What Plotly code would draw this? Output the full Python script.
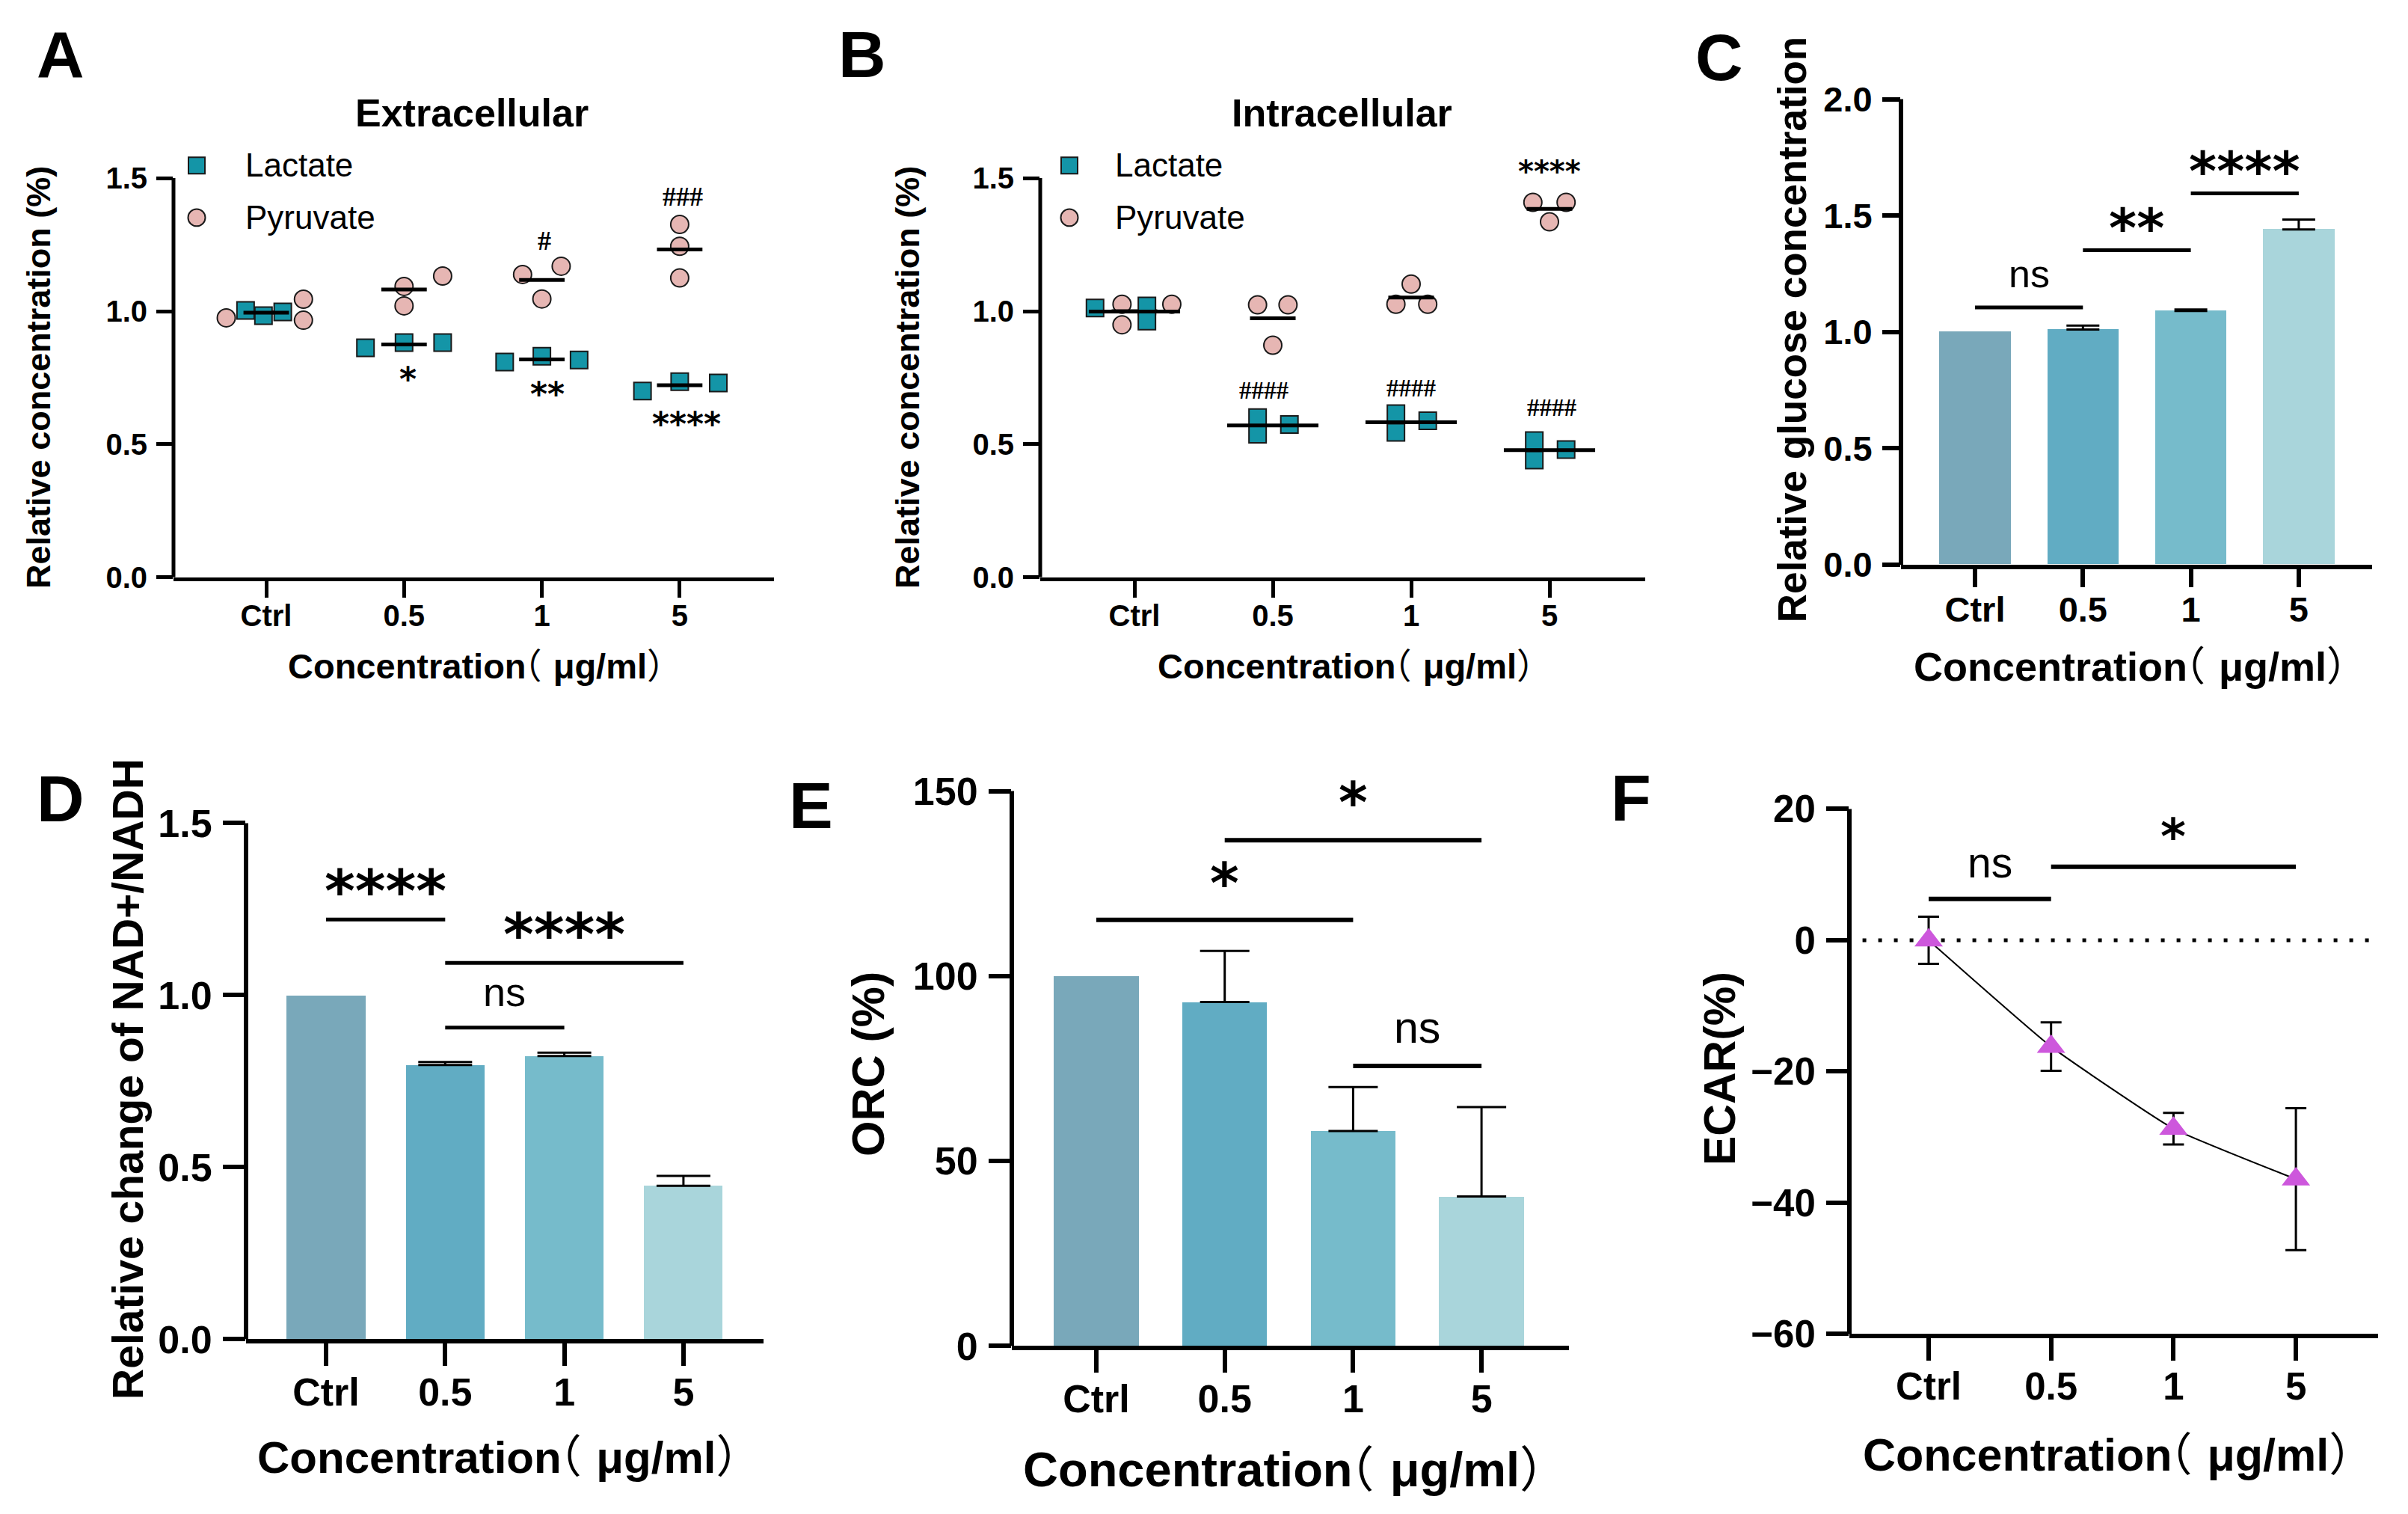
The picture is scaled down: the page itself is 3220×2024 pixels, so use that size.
import plotly.graph_objects as go

W, H = 3220, 2024
SANS = "Liberation Sans, Arial, Noto Sans CJK SC"
CJK = "Noto Sans CJK SC"
SERIF = "Liberation Serif, Times New Roman"
STAR = "DejaVu Sans"

cats = ["Ctrl", "0.5", "1", "5"]
xi = [0, 1, 2, 3]

# A: extracellular, 3 replicates per group
a_lactate = [[1.003, 0.983, 0.997], [0.862, 0.882, 0.882], [0.809, 0.831, 0.817], [0.700, 0.735, 0.730]]
a_pyruvate = [[0.975, 1.045, 0.966], [1.093, 1.020, 1.132], [1.138, 1.169, 1.046], [1.326, 1.244, 1.125]]
# B: intracellular
b_lactate = [[1.012, 1.020, 0.963], [0.600, 0.538, 0.574], [0.615, 0.545, 0.588], [0.514, 0.441, 0.480]]
b_pyruvate = [[1.026, 0.949, 1.026], [1.024, 1.024, 0.872], [1.102, 1.026, 1.026], [1.409, 1.409, 1.336]]

# C: relative glucose
c_vals = [1.00, 1.01, 1.09, 1.44]
c_err = [None, 0.017, 0.006, 0.043]
# D: NAD+/NADH
d_vals = [1.00, 0.797, 0.823, 0.446]
d_err = [None, 0.009, 0.010, 0.029]
# E: ORC
e_vals = [100, 93.0, 58.1, 40.4]
e_err = [None, 13.8, 11.9, 24.2]
# F: ECAR
f_vals = [0.0, -16.2, -28.7, -36.4]
f_err = [3.6, 3.7, 2.4, 10.8]

# significance labels: (from, to, text)
c_sig = [(0, 1, "ns"), (1, 2, "**"), (2, 3, "****")]
d_sig = [(0, 1, "****"), (1, 3, "****"), (1, 2, "ns")]
e_sig = [(0, 2, "*"), (1, 3, "*"), (2, 3, "ns")]
f_sig = [(0, 1, "ns"), (1, 3, "*")]

# ---- layout helpers (pixel boxes) ----
jit_a_lac = [[-0.15, -0.02, 0.12], [-0.28, 0, 0.28], [-0.27, 0, 0.27], [-0.27, 0, 0.28]]
jit_a_pyr = [[-0.29, 0.27, 0.27], [0, 0, 0.28], [-0.14, 0.14, 0], [0, 0, 0]]
jit_b_lac = [[-0.285, 0.09, 0.09], [-0.11, -0.11, 0.12], [-0.11, -0.11, 0.12], [-0.11, -0.11, 0.12]]
jit_b_pyr = [[-0.09, -0.09, 0.27], [-0.11, 0.11, 0], [0, -0.11, 0.12], [-0.12, 0.12, 0]]

bar_colors = ["#79A8BA", "#61ACC3", "#76BBCB", "#A9D5DB"]
TEAL = "#1495A7"
PINK = "#E6B6B3"
VIOLET = "#CD57DC"

fig = go.Figure()


# the page is photographed slightly squeezed vertically; map target pixels to paper
def px(x):
    return (x - 8) / W


def py(y):
    return 1 - ((y - 31) / 0.978) / H


def axes(n, left, right, bottom, top, vmin, vtop, vext, cat0, step, ytv, ytt, fsize, lw, tlen):
    k = (bottom - top) / (vtop - vmin)
    ext_px = bottom - k * (vext - vmin)
    sfx = "" if n == 1 else str(n)
    tf = dict(family=SANS, size=fsize, color="black", weight="bold")
    fig.layout["xaxis" + sfx] = dict(
        domain=[px(left), px(right)], range=[(left - cat0) / step, (right - cat0) / step],
        anchor="y" + sfx, showline=True, linewidth=lw, linecolor="black", ticks="outside",
        ticklen=tlen, tickwidth=lw, tickcolor="black", tickvals=xi, ticktext=cats,
        tickfont=tf, showgrid=False, zeroline=False, ticklabelstandoff=-10)
    fig.layout["yaxis" + sfx] = dict(
        domain=[py(bottom), py(ext_px)], range=[vmin, vext], anchor="x" + sfx,
        showline=False, ticks="outside", ticklen=tlen, tickwidth=lw, tickcolor="black",
        tickvals=ytv, ticktext=ytt, tickfont=tf, showgrid=False, zeroline=False,
        ticklabelstandoff=4)
    fig.add_shape(type="line", xref="x" + sfx + " domain", yref="y" + sfx,
                  x0=0, x1=0, y0=vmin, y1=vtop, line=dict(color="black", width=lw))


def text(x, y, s, size, bold=True, family=SANS, angle=0, xanchor="center"):
    fig.add_annotation(x=px(x), y=py(y), xref="paper", yref="paper", text=s, showarrow=False,
                       textangle=angle, xanchor=xanchor, yanchor="middle",
                       font=dict(family=family, size=size, color="black",
                                 weight="bold" if bold else "normal"))


def conc_title(c_start, y, s):
    # pull the full-width bracket in so it hugs the word, as in the original
    t = ('Concentratio<span style="letter-spacing:-%dpx">n</span>'
         '<span style="font-weight:normal">\uff08</span>'
         '<span style="letter-spacing:%dpx"> </span>\u03bcg/ml'
         '<span style="font-weight:normal">\uff09</span>') % (round(0.55 * s), round(0.05 * s))
    text(c_start - 0.05 * s, y, t, s, family="Liberation Sans, " + CJK, xanchor="left")


def dtext(n, x, y, s, size, family=STAR, bold=True):
    sfx = "" if n == 1 else str(n)
    fig.add_annotation(x=x, y=y, xref="x" + sfx, yref="y" + sfx, text=s, showarrow=False,
                       xanchor="center", yanchor="middle",
                       font=dict(family=family, size=size, color="black",
                                 weight="bold" if bold else "normal"))


def scatter_panel(n, lac, pyr, jl, jp, half_l, half_p):
    sfx = "" if n == 1 else str(n)
    for vals, jit, sym, col, size, half in [(pyr, jp, "circle", PINK, 24, half_p),
                                              (lac, jl, "square", TEAL, 23, half_l)]:
        xs, ys, mx, my = [], [], [], []
        for c, (grp, jj) in enumerate(zip(vals, jit)):
            xs += [c + j for j in jj]
            ys += grp
            m = sum(grp) / len(grp)
            mx += [c - half, c + half, None]
            my += [m, m, None]
        fig.add_trace(go.Scatter(x=xs, y=ys, mode="markers", xaxis="x" + sfx, yaxis="y" + sfx,
                                 marker=dict(symbol=sym, size=size, color=col,
                                             line=dict(color="#1a1a1a", width=2))))
        fig.add_trace(go.Scatter(x=mx, y=my, mode="lines", xaxis="x" + sfx, yaxis="y" + sfx,
                                 line=dict(color="black", width=5)))


def bar_panel(n, vals, err, cap):
    sfx = "" if n == 1 else str(n)
    fig.add_trace(go.Bar(x=xi, y=vals, width=0.66, xaxis="x" + sfx, yaxis="y" + sfx,
                         marker=dict(color=bar_colors, line=dict(width=0))))
    keep = [i for i, e in enumerate(err) if e is not None]
    fig.add_trace(go.Scatter(x=[xi[i] for i in keep], y=[vals[i] for i in keep], mode="markers",
                             marker=dict(size=1, opacity=0), xaxis="x" + sfx, yaxis="y" + sfx,
                             error_y=dict(type="data", array=[err[i] for i in keep],
                                          arrayminus=[0] * len(keep), symmetric=False,
                                          color="black", thickness=3, width=cap)))


def brackets(n, sig, lines, texts, sizes, lw):
    sfx = "" if n == 1 else str(n)
    for (a, b, s), yl, yt in zip(sig, lines, texts):
        fig.add_shape(type="line", xref="x" + sfx, yref="y" + sfx, x0=a, x1=b, y0=yl, y1=yl,
                      line=dict(color="black", width=lw))
        if s == "ns":
            dtext(n, (a + b) / 2, yt, s, sizes[1], family=SANS, bold=False)
        else:
            dtext(n, (a + b) / 2, yt, s, sizes[0])


fmt1 = ["0.0", "0.5", "1.0", "1.5", "2.0"]

# ---- A ----
axes(1, 232, 1035, 774, 238, 0, 1.5, 1.62, 356, 184.3, [0, 0.5, 1, 1.5], fmt1[:4], 40, 5, 22)
scatter_panel(1, a_lactate, a_pyruvate, jit_a_lac, jit_a_pyr, 0.165, 0.165)
dtext(1, 1.03, 0.745, "*", 44)
dtext(1, 2.04, 0.69, "**", 44)
dtext(1, 3.05, 0.578, "****", 44)
dtext(1, 2.02, 1.265, "#", 36, family=SERIF)
dtext(1, 3.02, 1.43, "###", 36, family=SERIF)

# ---- B ----
axes(2, 1391, 2200, 774, 238, 0, 1.5, 1.62, 1517, 185, [0, 0.5, 1, 1.5], fmt1[:4], 40, 5, 22)
scatter_panel(2, b_lactate, b_pyruvate, jit_b_lac, jit_b_pyr, 0.33, 0.165)
dtext(2, 0.94, 0.702, "####", 33, family=SERIF)
dtext(2, 2.0, 0.71, "####", 33, family=SERIF)
dtext(2, 3.02, 0.637, "####", 33, family=SERIF)
dtext(2, 3.0, 1.525, "****", 40)

# ---- C ----
axes(3, 2542, 3172, 757, 132, 0, 2.0, 2.01, 2641, 144.3, [0, 0.5, 1, 1.5, 2], fmt1, 47, 6, 24)
bar_panel(3, c_vals, c_err, 22)
brackets(3, c_sig, [1.105, 1.351, 1.595], [1.25, 1.445, 1.69], (71, 52), 5)

# ---- D ----
axes(4, 329, 1021, 1797, 1104, 0, 1.5, 1.51, 436, 159.3, [0, 0.5, 1, 1.5], fmt1[:4], 52, 6, 30)
bar_panel(4, d_vals, d_err, 36)
brackets(4, d_sig, [1.22, 1.094, 0.906], [1.30, 1.175, 1.01], (78, 54), 5)

# ---- E ----
axes(5, 1353, 2098, 1806, 1061, 0, 150, 151, 1466, 171.7, [0, 50, 100, 150],
     ["0", "50", "100", "150"], 52, 6, 30)
bar_panel(5, e_vals, e_err, 33)
brackets(5, e_sig, [115.2, 136.7, 75.7], [125, 146.8, 86], (74, 59), 6)

# ---- F ----
axes(6, 2473, 3180, 1790, 1085, -60, 20, 20.5, 2579, 163.7, [-60, -40, -20, 0, 20],
     ["\u221260", "\u221240", "\u221220", "0", "20"], 51, 6, 30)
fig.add_trace(go.Scatter(x=[-0.54, 3.66], y=[0, 0], mode="lines", xaxis="x6", yaxis="y6",
                         line=dict(color="black", width=5, dash="5px,16px")))
fig.add_trace(go.Scatter(x=xi, y=f_vals, mode="lines+markers", xaxis="x6", yaxis="y6",
                         line=dict(color="black", width=2, shape="spline", smoothing=0.4),
                         marker=dict(symbol="triangle-up", size=33, color=VIOLET),
                         error_y=dict(type="data", array=f_err, color="black", thickness=3, width=14)))
brackets(6, f_sig, [6.3, 11.2], [11.9, 15.8], (65, 57), 6)

# ---- legends A / B ----
for lx, tx in [(263, 326), (1430, 1489)]:
    fig.add_shape(type="rect", xref="paper", yref="paper", x0=px(lx - 11), x1=px(lx + 11),
                  y0=py(232), y1=py(210), fillcolor=TEAL, line=dict(color="#1a1a1a", width=2))
    fig.add_shape(type="circle", xref="paper", yref="paper", x0=px(lx - 11.5), x1=px(lx + 11.5),
                  y0=py(302.5), y1=py(279.5), fillcolor=PINK, line=dict(color="#1a1a1a", width=2))
    text(tx, 220, "Lactate", 44, bold=False, xanchor="left")
    text(tx, 291, "Pyruvate", 44, bold=False, xanchor="left")

# ---- titles, axis titles, panel letters ----
text(631, 151, "Extracellular", 52)
text(1794, 151, "Intracellular", 52)
text(52, 506, "Relative concentration (%)", 45, angle=-90)
text(1214, 506, "Relative concentration (%)", 45, angle=-90)
text(2396, 442, "Relative glucose concentration", 53, angle=-90)
text(171, 1448, "Relative change of NAD+/NADH", 57, angle=-90)
text(1161, 1428, "ORC (%)", 61, angle=-90)
text(2300, 1434, "ECAR(%)", 59, angle=-90)

conc_title(385, 893, 47)
conc_title(1548, 893, 47)
conc_title(2560, 894, 54)
conc_title(345, 1956, 60)
conc_title(1369, 1972, 65)
conc_title(2492, 1952, 61)

for lbl, x, y in [("A", 81, 72), ("B", 1153, 72), ("C", 2299, 76),
                  ("D", 81, 1071), ("E", 1084, 1080), ("F", 2181, 1070)]:
    text(x, y, lbl, 88)

fig.update_layout(width=W, height=H, margin=dict(l=0, r=0, t=0, b=0),
                  paper_bgcolor="white", plot_bgcolor="white", showlegend=False,
                  bargap=0)
fig.write_html("out.html")
